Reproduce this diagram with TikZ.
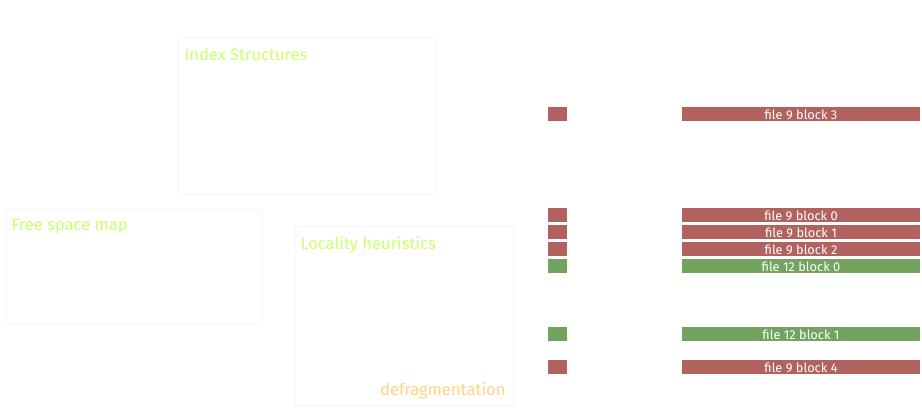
\documentclass[tikz,border=0pt]{standalone}
\usepackage{fontspec}
\setmainfont{Fira Sans}

\definecolor{blkred}{RGB}{178,98,94}
\definecolor{blkgreen}{RGB}{114,164,96}
\definecolor{lblgreen}{RGB}{204,255,110}
\definecolor{lblorange}{RGB}{255,212,128}
\definecolor{panelline}{RGB}{246,246,250}

\tikzset{every picture/.style={line width=0.75pt}}
\tikzset{
  panel/.style={draw=panelline, line width=0.75pt},
  paneltitle/.style={anchor=west, inner sep=0pt, text=lblgreen, font=\fontsize{12.4}{14}\selectfont},
  blocktext/.style={inner sep=0pt, text=white, font=\fontsize{9.6}{11}\selectfont}
}

\begin{document}
\begin{tikzpicture}[x=0.75pt,y=0.75pt,yscale=-1,xscale=1]
\useasboundingbox (0,0) rectangle (922,417);

%Shape: Rectangle [Index Structures]
\draw [panel] (178,38) rectangle (435,195);
%Shape: Rectangle [Free space map]
\draw [panel] (6,210) rectangle (262,324);
%Shape: Rectangle [Locality heuristics]
\draw [panel] (295,227) rectangle (513,405);

% Text Node
\node (idxlbl) [paneltitle] at (184,54.5) {Index Structures};
% Text Node
\node (fsmlbl) [paneltitle] at (11,226.5) {Free space map};
% Text Node
\node (loclbl) [paneltitle] at (300,244.5) {Locality heuristics};
% Text Node
\node (defraglbl) [paneltitle, anchor=east, text=lblorange] at (506,390.5) {defragmentation};

%Shape: small blocks
\fill [blkred] (548,107) rectangle (567,121);
\fill [blkred] (548,208) rectangle (567,222);
\fill [blkred] (548,225) rectangle (567,239);
\fill [blkred] (548,242) rectangle (567,256);
\fill [blkgreen] (548,259) rectangle (567,273);
\fill [blkgreen] (548,327) rectangle (567,341);
\fill [blkred] (548,360) rectangle (567,374);

%Shape: file blocks
\fill [blkred] (682,107) rectangle (920,121);
\fill [blkred] (682,208) rectangle (920,222);
\fill [blkred] (682,225) rectangle (920,239);
\fill [blkred] (682,242) rectangle (920,256);
\fill [blkgreen] (682,259) rectangle (920,273);
\fill [blkgreen] (682,327) rectangle (920,341);
\fill [blkred] (682,360) rectangle (920,374);

% Text Node
\node (f9b3) [blocktext] at (801,115) {file 9 block 3};
% Text Node
\node (f9b0) [blocktext] at (801,216) {file 9 block 0};
% Text Node
\node (f9b1) [blocktext] at (801,233) {file 9 block 1};
% Text Node
\node (f9b2) [blocktext] at (801,250) {file 9 block 2};
% Text Node
\node (f12b0) [blocktext] at (801,267) {file 12 block 0};
% Text Node
\node (f12b1) [blocktext] at (801,335) {file 12 block 1};
% Text Node
\node (f9b4) [blocktext] at (801,368) {file 9 block 4};

\end{tikzpicture}
\end{document}
